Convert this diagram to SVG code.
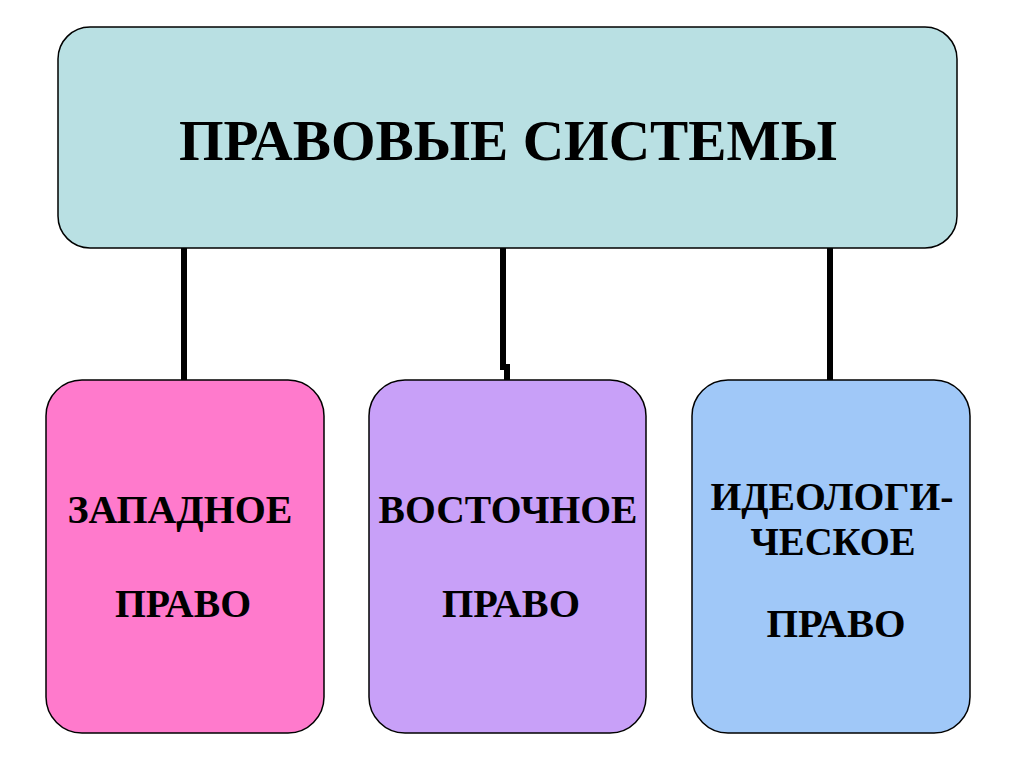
<svg xmlns="http://www.w3.org/2000/svg" width="1024" height="767" viewBox="0 0 1024 767">
<style>
.box{stroke:#000;stroke-width:1.5}
.t{font-family:"Liberation Serif","Times New Roman",serif;font-weight:bold;fill:#000;text-anchor:middle}
.big{font-size:56px}
.sm{font-size:39px}
.con{fill:none;stroke:#000;stroke-width:6}
</style>
<rect width="1024" height="767" fill="#fff"/>
<g id="connectors">
<path class="con" d="M184 248 V380"/>
<path class="con" d="M503 248 V367 H507 V380"/>
<path class="con" d="M830 248 V380"/>
</g>
<g id="root">
<rect class="box" x="58" y="27" width="899" height="221" rx="32" fill="#B9E0E3"/>
<text class="t big" x="508" y="160" textLength="658" lengthAdjust="spacingAndGlyphs">ПРАВОВЫЕ СИСТЕМЫ</text>
</g>
<g id="west">
<rect class="box" x="46" y="380" width="278" height="353" rx="36" fill="#FF7ACC"/>
<text class="t sm" x="180" y="523" textLength="225" lengthAdjust="spacingAndGlyphs">ЗАПАДНОЕ</text>
<text class="t sm" x="183" y="617" textLength="136" lengthAdjust="spacingAndGlyphs">ПРАВО</text>
</g>
<g id="east">
<rect class="box" x="369" y="380" width="277" height="353" rx="36" fill="#C8A0F8"/>
<text class="t sm" x="508" y="523" textLength="259" lengthAdjust="spacingAndGlyphs">ВОСТОЧНОЕ</text>
<text class="t sm" x="511" y="617" textLength="138" lengthAdjust="spacingAndGlyphs">ПРАВО</text>
</g>
<g id="ideological">
<rect class="box" x="692" y="380" width="278" height="353" rx="36" fill="#A0C8F8"/>
<text class="t sm" x="832" y="510" textLength="243" lengthAdjust="spacingAndGlyphs">ИДЕОЛОГИ-</text>
<text class="t sm" x="833" y="555" textLength="165" lengthAdjust="spacingAndGlyphs">ЧЕСКОЕ</text>
<text class="t sm" x="836" y="637" textLength="139" lengthAdjust="spacingAndGlyphs">ПРАВО</text>
</g>
</svg>
